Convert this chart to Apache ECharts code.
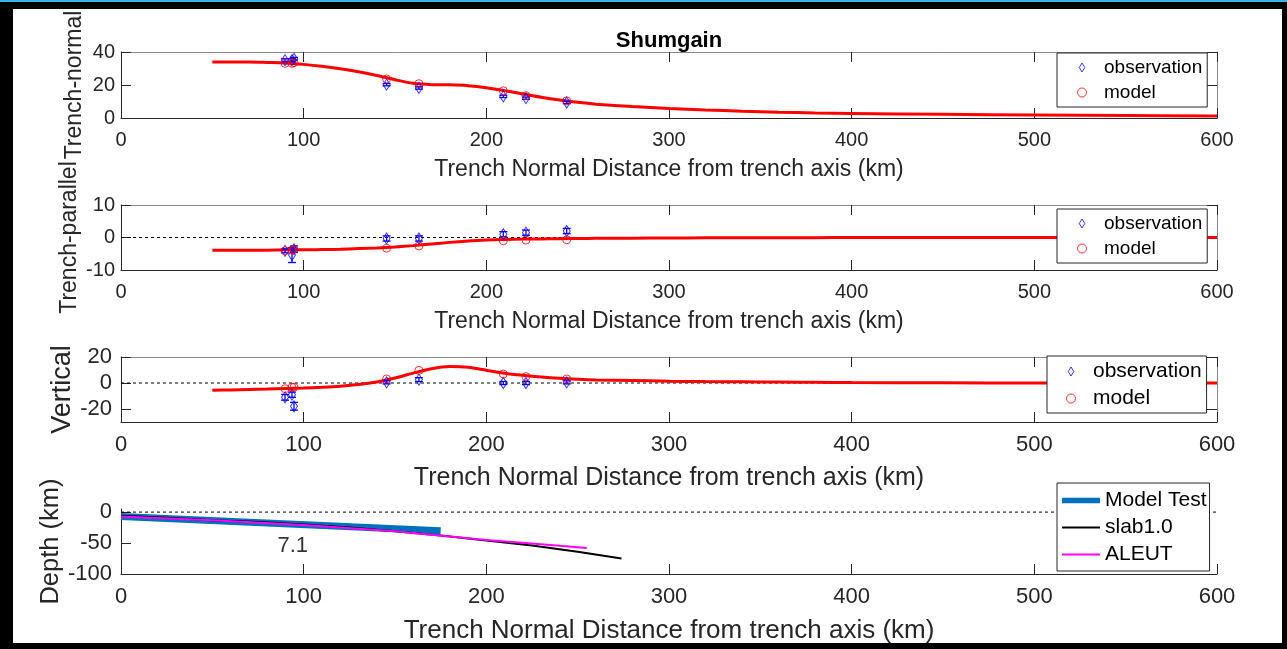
<!DOCTYPE html>
<html>
<head>
<meta charset="utf-8">
<title>Shumgain</title>
<script src="https://cdn.jsdelivr.net/npm/echarts@6/dist/echarts.min.js"></script>
<style>
  html, body { margin: 0; padding: 0; background: #000; }
  #chart { width: 1287px; height: 649px; }
</style>
</head>
<body>
<div id="chart"></div>
<script>
// ---- GPS stations (distance from trench axis, km) ----
const stationX = [89.8, 93.6, 94.7, 145.4, 163.1, 209.3, 221.7, 244.0];

// Trench-normal component (observed, uncertainty, modelled at stations)
const normalObs = [35.1, 35.1, 35.9, 20.2, 18.2, 13.1, 12.0, 9.4];
const normalErr = [0.8, 0.8, 0.8, 0.7, 0.7, 0.7, 0.7, 0.7];
const normalMod = [33.1, 33.1, 33.5, 23.7, 20.8, 16.5, 13.5, 10.4];

// Trench-parallel component
const parallelObs = [-4.1, -5.4, -3.6, -0.3, -0.3, 1.0, 1.5, 2.0];
const parallelErr = [0.6, 2.3, 1.0, 0.8, 0.8, 0.8, 0.8, 0.8];
const parallelMod = [-4.1, -3.9, -3.6, -3.3, -2.6, -1.0, -0.8, -0.7];

// Vertical component
const verticalObs = [-11.0, -9.0, -17.9, 0.5, 2.6, 0.0, 0.0, 0.5];
const verticalErr = [2.2, 2.0, 3.0, 1.2, 1.5, 1.2, 1.2, 1.2];
const verticalMod = [-4.4, -3.3, -3.3, 3.1, 9.7, 6.9, 4.9, 3.1];

// Continuous model prediction along the profile
const curveX = [50, 60, 70, 80, 90, 100, 110, 120, 130, 140, 150, 160, 170, 180, 190, 200,
                210, 220, 230, 240, 250, 260, 280, 300, 320, 340, 360, 380, 400, 450, 500, 550, 600];
const normalCurve = [33.9, 33.9, 33.9, 33.7, 33.4, 32.5, 31.3, 29.8, 28.0, 25.8, 23.2, 21.0, 20.2, 20.1, 19.6, 18.4,
                     16.6, 14.6, 12.6, 10.9, 9.5, 8.4, 6.9, 5.8, 4.9, 4.1, 3.5, 3.1, 2.8, 2.2, 1.8, 1.5, 1.2];
const parallelCurve = [-3.9, -3.9, -3.9, -3.9, -3.8, -3.8, -3.7, -3.6, -3.4, -3.2, -2.9, -2.5, -2.0, -1.5, -1.1, -0.8,
                       -0.6, -0.5, -0.45, -0.35, -0.3, -0.25, -0.2, -0.15, -0.1, -0.1, -0.05, -0.05, 0, 0, 0, 0, 0];
const verticalCurve = [-5.6, -5.3, -5.0, -4.7, -4.3, -3.9, -3.3, -2.5, -1.2, 0.8, 3.8, 7.6, 11.0, 12.6, 12.1, 9.8,
                       7.5, 5.9, 4.6, 3.6, 2.9, 2.4, 1.9, 1.4, 1.1, 0.9, 0.7, 0.5, 0.3, 0.1, 0, 0, 0];

// Slab geometry (depth in km, negative down)
const modelTestX = [0, 175];
const modelTestDepth = [-7, -30];
const slabX = [0, 25, 50, 75, 100, 125, 150, 175, 200, 225, 250, 274];
const slabDepth = [-6, -9, -13, -16, -20, -25, -31, -38, -46, -54, -64, -75];
const aleutX = [0, 50, 100, 150, 200, 230, 255];
const aleutDepth = [-7, -13, -21, -31, -45, -52, -58];
const slabNoteX = [94];
const slabNoteY = [-55];
const slabNoteText = ['7.1'];

// Axis ticks
const distanceTicks = [0, 100, 200, 300, 400, 500, 600];
const normalTicks = [0, 20, 40];
const parallelTicks = [-10, 0, 10];
const verticalTicks = [-20, 0, 20];
const depthTicks = [-100, -50, 0];

const xTitle = 'Trench Normal Distance from trench axis (km)';
const FONT = 'Liberation Sans, Arial, Helvetica, sans-serif';
const AXIS_DARK = '#262626';
const AXIS_LIGHT = '#8a8a8a';

const zip = (xs, ys) => xs.map((x, i) => [x, ys[i]]);

// Panel layout
const panels = [
  { top: 52, height: 66, tickFs: 20, xNameFs: 23, xGap: 40, yName: 'Trench-normal', yNameFs: 23, yGap: 35,
    yMin: 0, yMax: 40, yTicks: normalTicks, yMargin: 6, box: true },
  { top: 205, height: 65, tickFs: 20, xNameFs: 23, xGap: 40, yName: 'Trench-parallel', yNameFs: 23, yGap: 40,
    yMin: -10, yMax: 10, yTicks: parallelTicks, yMargin: 6, box: true },
  { top: 357, height: 65, tickFs: 22, xNameFs: 25, xGap: 44, yName: 'Vertical', yNameFs: 27, yGap: 45,
    yMin: -30, yMax: 20, yTicks: verticalTicks, yMargin: 9, box: true },
  { top: 509, height: 65, tickFs: 22, xNameFs: 26, xGap: 44, yName: 'Depth (km)', yNameFs: 25.5, yGap: 57,
    yMin: -100, yMax: 5, yTicks: depthTicks, yMargin: 9, box: false }
];

const grids = [], xAxes = [], yAxes = [], xIdx = [], yIdx = [];
panels.forEach((p, i) => {
  grids.push({ left: 121, width: 1096, top: p.top, height: p.height });
  xIdx.push(xAxes.length);
  xAxes.push({
    gridIndex: i, type: 'value', position: 'bottom', min: 0, max: 600,
    axisLine: { show: true, onZero: false, lineStyle: { color: AXIS_DARK, width: 1 } },
    axisTick: { show: true, inside: true, length: 10, customValues: distanceTicks, lineStyle: { color: AXIS_DARK } },
    axisLabel: { show: true, customValues: distanceTicks, margin: 12, fontSize: p.tickFs, color: AXIS_DARK, fontFamily: FONT },
    splitLine: { show: false },
    name: xTitle, nameLocation: 'middle', nameGap: p.xGap,
    nameTextStyle: { fontSize: p.xNameFs, color: AXIS_DARK, fontFamily: FONT }
  });
  yIdx.push(yAxes.length);
  yAxes.push({
    gridIndex: i, type: 'value', position: 'left', min: p.yMin, max: p.yMax,
    axisLine: { show: true, onZero: false, lineStyle: { color: AXIS_DARK, width: 1 } },
    axisTick: { show: true, inside: true, length: 10, customValues: p.yTicks, lineStyle: { color: AXIS_DARK } },
    axisLabel: { show: true, customValues: p.yTicks, margin: p.yMargin, fontSize: p.tickFs, color: AXIS_DARK, fontFamily: FONT },
    splitLine: { show: false },
    name: p.yName, nameLocation: 'middle', nameGap: p.yGap, nameRotate: 90, nameMoveOverlap: false,
    nameTextStyle: { fontSize: p.yNameFs, color: AXIS_DARK, fontFamily: FONT }
  });
  if (p.box) {
    xAxes.push({
      gridIndex: i, type: 'value', position: 'top', min: 0, max: 600,
      axisLine: { show: true, onZero: false, lineStyle: { color: AXIS_LIGHT, width: 1 } },
      axisTick: { show: true, inside: true, length: 10, customValues: distanceTicks, lineStyle: { color: AXIS_DARK } },
      axisLabel: { show: false }, splitLine: { show: false }
    });
    yAxes.push({
      gridIndex: i, type: 'value', position: 'right', min: p.yMin, max: p.yMax,
      axisLine: { show: true, onZero: false, lineStyle: { color: AXIS_LIGHT, width: 1 } },
      axisTick: { show: true, inside: true, length: 10, customValues: p.yTicks, lineStyle: { color: AXIS_DARK } },
      axisLabel: { show: false }, splitLine: { show: false }
    });
  }
});

// Vertical error bars with short caps
function errorBars(params, api) {
  const x = api.value(0), y = api.value(1), e = api.value(2);
  const lo = api.coord([x, y - e]);
  const hi = api.coord([x, y + e]);
  const w = 4;
  const style = { stroke: '#0000ff', lineWidth: 1.3 };
  return {
    type: 'group',
    children: [
      { type: 'line', shape: { x1: lo[0], y1: lo[1], x2: hi[0], y2: hi[1] }, style },
      { type: 'line', shape: { x1: lo[0] - w, y1: lo[1], x2: lo[0] + w, y2: lo[1] }, style },
      { type: 'line', shape: { x1: hi[0] - w, y1: hi[1], x2: hi[0] + w, y2: hi[1] }, style }
    ]
  };
}

function zeroLine(i) {
  return {
    type: 'line', xAxisIndex: xIdx[i], yAxisIndex: yIdx[i], data: [[0, 0], [600, 0]],
    symbol: 'none', silent: true,
    lineStyle: { color: '#000', width: 1, type: [3, 3] }, z: 1
  };
}

const series = [];
const comp = [
  { curve: normalCurve, obs: normalObs, err: normalErr, mod: normalMod },
  { curve: parallelCurve, obs: parallelObs, err: parallelErr, mod: parallelMod },
  { curve: verticalCurve, obs: verticalObs, err: verticalErr, mod: verticalMod }
];
comp.forEach((c, i) => {
  if (i > 0) series.push(zeroLine(i));
  series.push({
    type: 'line', name: 'model profile', xAxisIndex: xIdx[i], yAxisIndex: yIdx[i],
    data: zip(curveX, c.curve), symbol: 'none', smooth: 0.3,
    lineStyle: { color: '#ff0000', width: 3 }, z: 2
  });
  series.push({
    type: 'custom', name: 'obs error', xAxisIndex: xIdx[i], yAxisIndex: yIdx[i],
    data: stationX.map((x, k) => [x, c.obs[k], c.err[k]]),
    renderItem: errorBars, encode: { x: 0, y: 1 }, z: 3
  });
  series.push({
    type: 'scatter', name: 'observation', xAxisIndex: xIdx[i], yAxisIndex: yIdx[i],
    data: zip(stationX, c.obs), symbol: 'diamond', symbolSize: [7, 11],
    itemStyle: { color: 'rgba(255,255,255,0)', borderColor: '#0000ff', borderWidth: 1 }, z: 4
  });
  series.push({
    type: 'scatter', name: 'model', xAxisIndex: xIdx[i], yAxisIndex: yIdx[i],
    data: zip(stationX, c.mod), symbol: 'circle', symbolSize: 8,
    itemStyle: { color: 'rgba(255,255,255,0)', borderColor: '#ff0000', borderWidth: 1 }, z: 4
  });
});

// Slab panel
series.push(zeroLine(3));
series.push({
  type: 'line', name: 'Model Test', xAxisIndex: xIdx[3], yAxisIndex: yIdx[3],
  data: zip(modelTestX, modelTestDepth), symbol: 'none',
  lineStyle: { color: '#0072BD', width: 7 }, z: 2
});
series.push({
  type: 'line', name: 'slab1.0', xAxisIndex: xIdx[3], yAxisIndex: yIdx[3],
  data: zip(slabX, slabDepth), symbol: 'none',
  lineStyle: { color: '#000000', width: 2 }, z: 3
});
series.push({
  type: 'line', name: 'ALEUT', xAxisIndex: xIdx[3], yAxisIndex: yIdx[3],
  data: zip(aleutX, aleutDepth), symbol: 'none',
  lineStyle: { color: '#ff00ff', width: 2 }, z: 3
});
series.push({
  type: 'scatter', name: 'dip note', xAxisIndex: xIdx[3], yAxisIndex: yIdx[3],
  data: zip(slabNoteX, slabNoteY), symbolSize: 1, silent: true,
  itemStyle: { color: 'rgba(0,0,0,0)' },
  label: {
    show: true, position: 'inside', formatter: (p) => slabNoteText[p.dataIndex],
    fontSize: 22, color: '#000', fontFamily: FONT
  }
});

// Legends
const diamondIcon = 'path://M5,0L10,8L5,16L0,8Z';
const thickBar = 'path://M0,0H40V6H0Z';
const thinBar = 'path://M0,0H40V2H0Z';
const markerItems = [
  { name: 'observation', icon: diamondIcon, itemStyle: { color: 'rgba(255,255,255,0)', borderColor: '#0000ff', borderWidth: 1 } },
  { name: 'model', icon: 'circle', itemStyle: { color: 'rgba(255,255,255,0)', borderColor: '#ff0000', borderWidth: 1 } }
];
function markerLegend(left, top, fs, pad) {
  return {
    show: true, orient: 'vertical', left, top, padding: pad,
    itemWidth: 34, itemHeight: 9, itemGap: 6, selectedMode: false,
    backgroundColor: '#fff', borderColor: AXIS_DARK, borderWidth: 1, borderRadius: 0,
    textStyle: { fontSize: fs, color: '#000', fontFamily: FONT },
    data: markerItems
  };
}
const legends = [
  markerLegend(1057, 53, 19, [5, 5, 5, 20]),
  markerLegend(1057, 209, 19, [5, 5, 5, 20]),
  markerLegend(1047, 356, 21, [5, 5, 4, 19]),
  {
    show: true, orient: 'vertical', left: 1057, top: 483, padding: [7, 3, 6, 5],
    itemWidth: 38, itemHeight: 9, itemGap: 6, selectedMode: false,
    backgroundColor: '#fff', borderColor: AXIS_DARK, borderWidth: 1, borderRadius: 0,
    textStyle: { fontSize: 21, color: '#000', fontFamily: FONT },
    data: [
      { name: 'Model Test', icon: thickBar, itemStyle: { color: '#0072BD', borderWidth: 0 } },
      { name: 'slab1.0', icon: thinBar, itemStyle: { color: '#000000', borderWidth: 0 } },
      { name: 'ALEUT', icon: thinBar, itemStyle: { color: '#ff00ff', borderWidth: 0 } }
    ]
  }
];

const chart = echarts.init(document.getElementById('chart'), null, { renderer: 'canvas' });
chart.setOption({
  animation: false,
  backgroundColor: '#ffffff',
  textStyle: { fontFamily: FONT },
  title: {
    text: 'Shumgain', left: 669, top: 30, textAlign: 'center', padding: 0,
    textStyle: { fontSize: 22, fontWeight: 'bold', color: '#000', fontFamily: FONT }
  },
  grid: grids,
  xAxis: xAxes,
  yAxis: yAxes,
  legend: legends,
  series,
  graphic: [
    { type: 'rect', z: 100, shape: { x: 0, y: 0, width: 1287, height: 9 }, style: { fill: '#000' } },
    { type: 'rect', z: 100, shape: { x: 0, y: 0, width: 13, height: 649 }, style: { fill: '#000' } },
    { type: 'rect', z: 100, shape: { x: 1282, y: 0, width: 5, height: 649 }, style: { fill: '#000' } },
    { type: 'rect', z: 100, shape: { x: 0, y: 643, width: 1287, height: 6 }, style: { fill: '#000' } },
    { type: 'rect', z: 101, shape: { x: 0, y: 0, width: 1287, height: 2 }, style: { fill: '#38b6ea' } }
  ]
});
</script>
</body>
</html>
